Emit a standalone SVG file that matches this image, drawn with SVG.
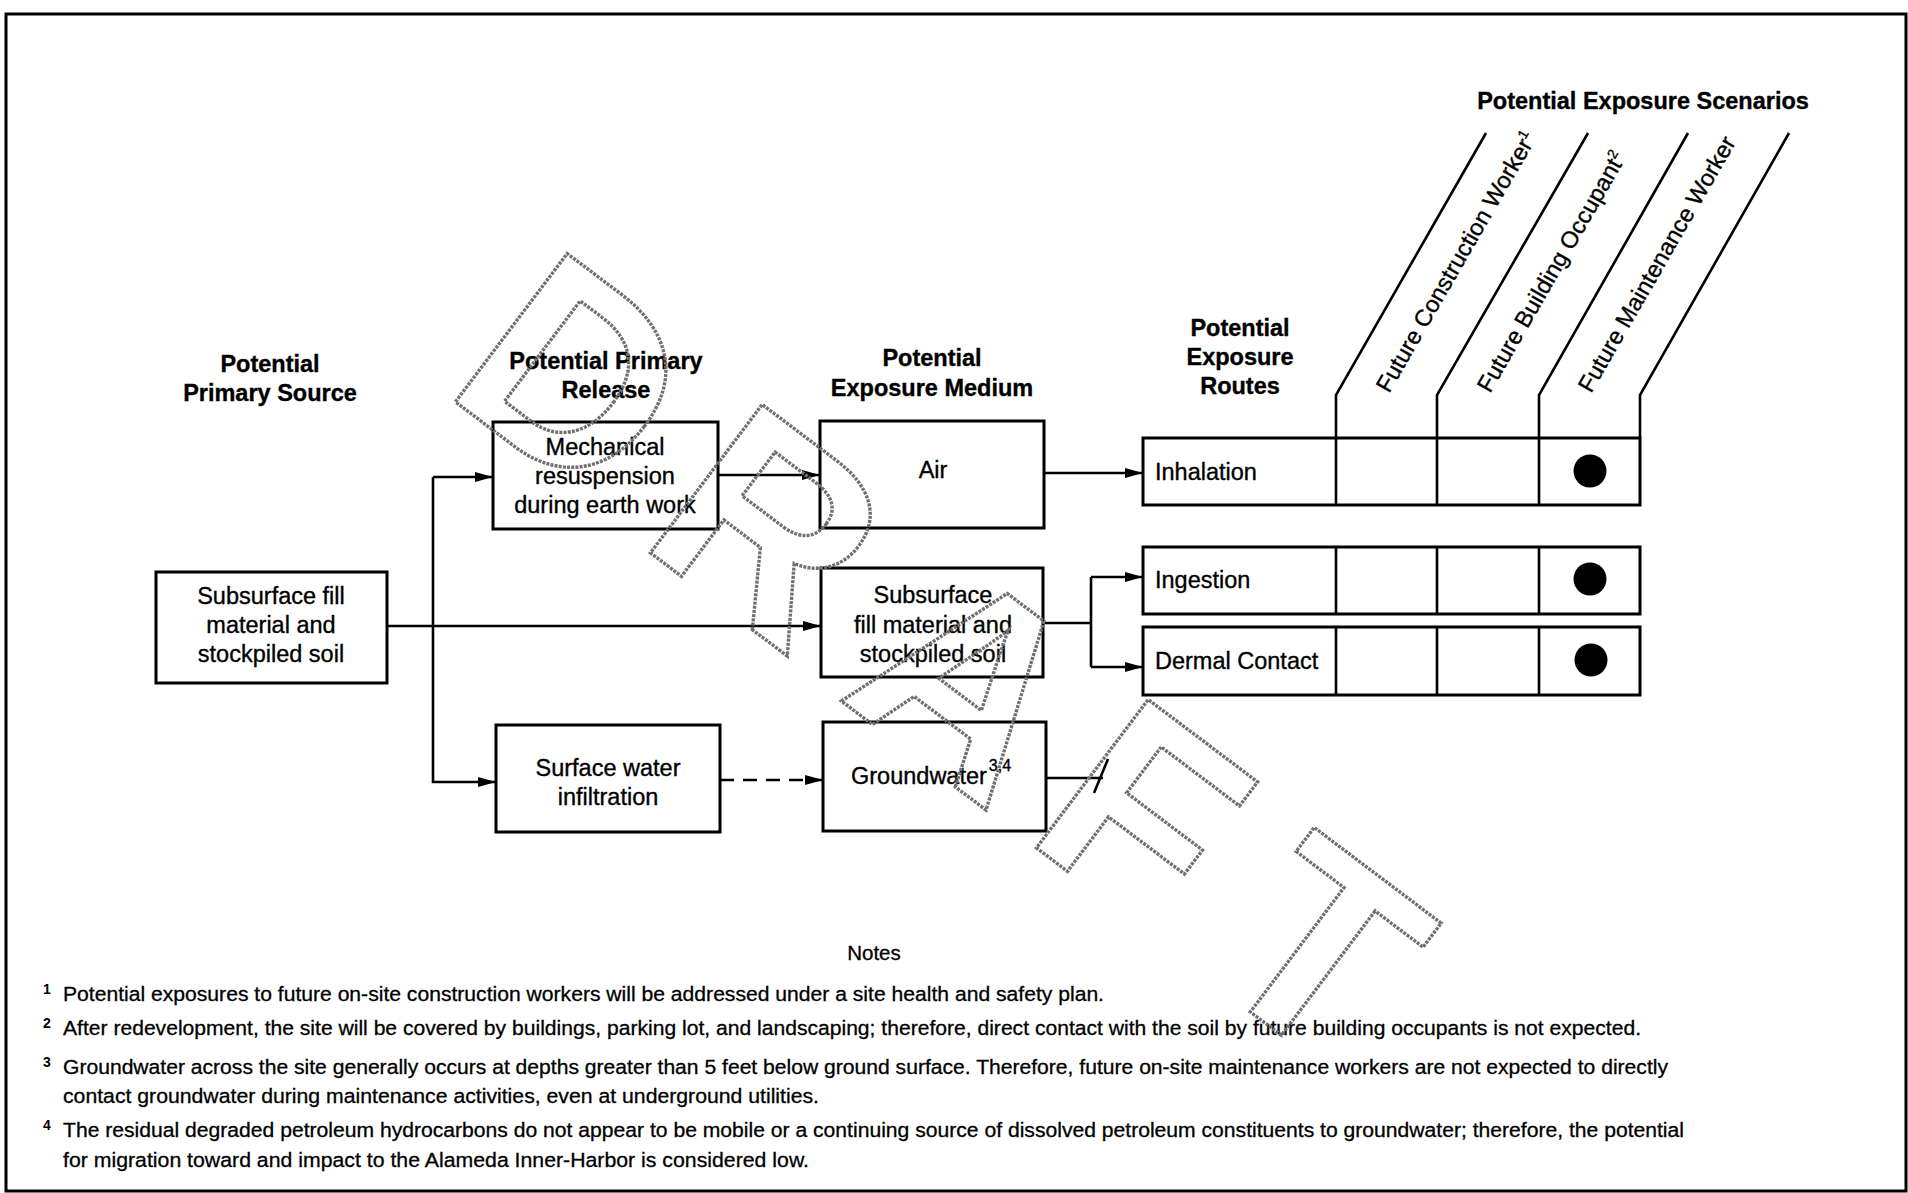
<svg xmlns="http://www.w3.org/2000/svg" width="1908" height="1193" viewBox="0 0 1908 1193">
<style>
.bx{fill:#fff;stroke:#000;stroke-width:3}
.ln{fill:none;stroke:#000;stroke-width:2.6}
.t{font-family:"Liberation Sans",Arial,sans-serif;font-size:23.5px;fill:#000;stroke:#000;stroke-width:0.35}
.tc{text-anchor:middle}
.b{font-weight:bold}
.n{font-family:"Liberation Sans",Arial,sans-serif;font-size:20.5px;fill:#000;stroke:#000;stroke-width:0.3}
.sup{font-family:"Liberation Sans",Arial,sans-serif;font-size:14px;fill:#000;font-weight:bold}
.wm{font-family:"Liberation Sans",Arial,sans-serif;font-weight:bold;font-size:270px;fill:none;stroke:#707070;stroke-width:3.4;stroke-dasharray:3 1.2}
</style>
<defs>
<marker id="arr" markerUnits="userSpaceOnUse" markerWidth="18" markerHeight="10" refX="18" refY="5" orient="auto">
<path d="M0,0 L18,5 L0,10 z" fill="#000"/>
</marker>
</defs>
<rect x="0" y="0" width="1908" height="1193" fill="#fff"/>
<rect x="6" y="14" width="1900" height="1177" fill="none" stroke="#000" stroke-width="3"/>

<g id="headings">
<text class="t b tc" x="270" y="372">Potential</text>
<text class="t b tc" x="270" y="401">Primary Source</text>
<text class="t b tc" x="606" y="369">Potential Primary</text>
<text class="t b tc" x="606" y="398">Release</text>
<text class="t b tc" x="932" y="366">Potential</text>
<text class="t b tc" x="932" y="396">Exposure Medium</text>
<text class="t b tc" x="1240" y="336">Potential</text>
<text class="t b tc" x="1240" y="365">Exposure</text>
<text class="t b tc" x="1240" y="394">Routes</text>
<text class="t b tc" x="1643" y="109">Potential Exposure Scenarios</text>
</g>

<g id="source">
<rect class="bx" x="156" y="572" width="231" height="111"/>
<text class="t tc" x="271" y="604">Subsurface fill</text>
<text class="t tc" x="271" y="633">material and</text>
<text class="t tc" x="271" y="662">stockpiled soil</text>
</g>

<g id="release-mech">
<rect class="bx" x="493" y="422" width="225" height="107"/>
<text class="t tc" x="605" y="455">Mechanical</text>
<text class="t tc" x="605" y="484">resuspension</text>
<text class="t tc" x="605" y="513">during earth work</text>
</g>

<g id="release-water">
<rect class="bx" x="496" y="725" width="224" height="107"/>
<text class="t tc" x="608" y="776">Surface water</text>
<text class="t tc" x="608" y="805">infiltration</text>
</g>

<g id="medium-air">
<rect class="bx" x="820" y="421" width="224" height="107"/>
<text class="t tc" x="933" y="478">Air</text>
</g>

<g id="medium-soil">
<rect class="bx" x="821" y="568" width="222" height="109"/>
<text class="t tc" x="933" y="603">Subsurface</text>
<text class="t tc" x="933" y="633">fill material and</text>
<text class="t tc" x="933" y="662">stockpiled soil</text>
</g>

<g id="medium-groundwater">
<rect class="bx" x="823" y="722" width="223" height="109"/>
<text class="t" x="851" y="784">Groundwater<tspan font-size="16" dx="2" dy="-13">3,4</tspan></text>
</g>

<g id="scenario-headers">
<path class="ln" d="M1336,438 V395 L1486,133 M1437,438 V395 L1588,133 M1539,438 V395 L1688,133 M1640,438 V395 L1789,133" stroke-width="2.4"/>
<text class="t" font-size="22" transform="translate(1389,394) rotate(-60)">Future Construction Worker<tspan font-size="14" dy="-9">1</tspan></text>
<text class="t" font-size="22" transform="translate(1490,394) rotate(-60)">Future Building Occupant<tspan font-size="14" dy="-9">2</tspan></text>
<text class="t" font-size="22" transform="translate(1591,394) rotate(-60)">Future Maintenance Worker</text>
</g>

<g id="route-inhalation">
<rect class="bx" x="1143" y="438" width="497" height="67"/>
<path class="ln" d="M1336,438 V505 M1437,438 V505 M1539,438 V505" stroke-width="3"/>
<text class="t" x="1155" y="480">Inhalation</text>
<circle cx="1590" cy="471" r="16.5" fill="#000"/>
</g>

<g id="route-ingestion">
<rect class="bx" x="1143" y="547" width="497" height="67"/>
<path class="ln" d="M1336,547 V614 M1437,547 V614 M1539,547 V614" stroke-width="3"/>
<text class="t" x="1155" y="588">Ingestion</text>
<circle cx="1590" cy="579" r="16.5" fill="#000"/>
</g>

<g id="route-dermal">
<rect class="bx" x="1143" y="627" width="497" height="68"/>
<path class="ln" d="M1336,627 V695 M1437,627 V695 M1539,627 V695" stroke-width="3"/>
<text class="t" x="1155" y="669">Dermal Contact</text>
<circle cx="1591" cy="660" r="16.5" fill="#000"/>
</g>

<g id="connectors">
<path class="ln" d="M387,626 H821" marker-end="url(#arr)"/>
<path class="ln" d="M433,477 V782 H496" marker-end="url(#arr)"/>
<path class="ln" d="M433,477 H493" marker-end="url(#arr)"/>
<path class="ln" d="M718,475 H820" marker-end="url(#arr)"/>
<path class="ln" d="M720,780 H823" stroke-dasharray="14 9" marker-end="url(#arr)"/>
<path class="ln" d="M1044,473 H1143" marker-end="url(#arr)"/>
<path class="ln" d="M1043,623 H1091"/>
<path class="ln" d="M1091,577 V667"/>
<path class="ln" d="M1091,577 H1143" marker-end="url(#arr)"/>
<path class="ln" d="M1091,667 H1143" marker-end="url(#arr)"/>
<path class="ln" d="M1046,778 H1103"/>
<path class="ln" d="M1094,793 L1108,759"/>
</g>

<g id="notes">
<text class="n tc" x="874" y="960">Notes</text>
<text class="sup" x="43" y="994">1</text>
<text class="n" x="63" y="1001" textLength="1041" lengthAdjust="spacingAndGlyphs">Potential exposures to future on-site construction workers will be addressed under a site health and safety plan.</text>
<text class="sup" x="43" y="1028">2</text>
<text class="n" x="63" y="1035" textLength="1578" lengthAdjust="spacingAndGlyphs">After redevelopment, the site will be covered by buildings, parking lot, and landscaping; therefore, direct contact with the soil by future building occupants is not expected.</text>
<text class="sup" x="43" y="1067">3</text>
<text class="n" x="63" y="1074" textLength="1605" lengthAdjust="spacingAndGlyphs">Groundwater across the site generally occurs at depths greater than 5 feet below ground surface. Therefore, future on-site maintenance workers are not expected to directly</text>
<text class="n" x="63" y="1103" textLength="756" lengthAdjust="spacingAndGlyphs">contact groundwater during maintenance activities, even at underground utilities.</text>
<text class="sup" x="43" y="1130">4</text>
<text class="n" x="63" y="1137" textLength="1621" lengthAdjust="spacingAndGlyphs">The residual degraded petroleum hydrocarbons do not appear to be mobile or a continuing source of dissolved petroleum constituents to groundwater; therefore, the potential</text>
<text class="n" x="63" y="1167" textLength="746" lengthAdjust="spacingAndGlyphs">for migration toward and impact to the Alameda Inner-Harbor is considered low.</text>
</g>

<g id="watermark">
<text class="wm" transform="translate(441,391) rotate(37)">D</text>
<text class="wm" transform="translate(636,542) rotate(37)">R</text>
<text class="wm" transform="translate(836,697) rotate(37)">A</text>
<text class="wm" transform="translate(1022,837) rotate(37)">F</text>
<text class="wm" transform="translate(1200,974) rotate(37)">T</text>
</g>
</svg>
